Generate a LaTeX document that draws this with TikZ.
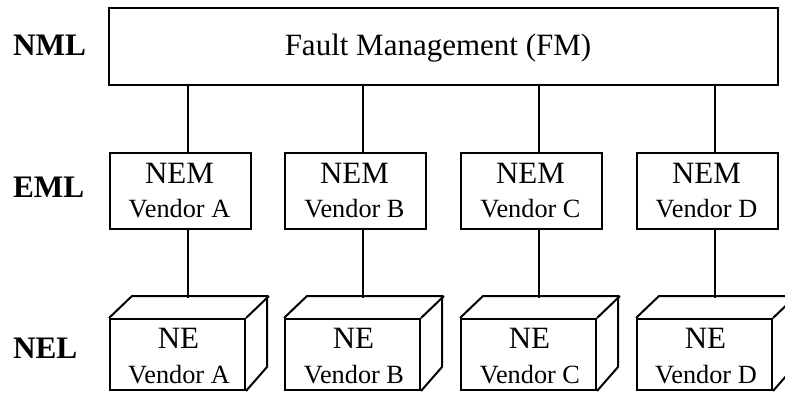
\documentclass[tikz,border=0pt]{standalone}
\usepackage{fontspec}
\setmainfont{Liberation Serif}
\begin{document}
\begin{tikzpicture}[x=1pt,y=-1pt,line width=2pt,
  fmbox/.style={draw, minimum width=669pt, minimum height=77pt, inner sep=0pt},
  nembox/.style={draw, minimum width=141pt, minimum height=76pt, inner sep=0pt},
  nebox/.style={draw, minimum width=135pt, minimum height=71pt, inner sep=0pt},
  bigtxt/.style={inner sep=0pt, anchor=base, font=\fontsize{31}{36}\selectfont},
  smalltxt/.style={inner sep=0pt, anchor=base, font=\fontsize{26.3}{30}\selectfont},
  layertxt/.style={inner sep=0pt, anchor=base west, font=\fontsize{31.3}{36}\selectfont\bfseries}]
\useasboundingbox (0,0) rectangle (785,392);
\clip (0,0) rectangle (785,392);
\node[fmbox] (fm) at (443.5,46.5) {};
\node[bigtxt] (fmt) at (438,55) {Fault Management (FM)};
\node[layertxt] (nml) at (12,55) {NML};
\node[layertxt] (eml) at (12,197) {EML};
\node[layertxt] (nel) at (12,358) {NEL};
\foreach \L/\v in {110/A,285/B,461/C,637/D}{
  \node[nembox] (nem\v) at ({\L+70.5},191) {};
  \node[bigtxt] (nemt\v) at ({\L+69.5},183) {NEM};
  \node[smalltxt] (nemv\v) at ({\L+69.5},217) {Vendor \v};
  \node[nebox] (ne\v) at ({\L+67.5},354.5) {};
  \draw (ne\v.north west) -- ++(23,-22) -- ++(135,0) -- ++(0,71) -- (ne\v.south east);
  \draw (ne\v.north east) -- ++(23,-22);
  \node[bigtxt] (net\v) at ({\L+68.5},348) {NE};
  \node[smalltxt] (nev\v) at ({\L+69},383) {Vendor \v};
  \coordinate (c\v) at ({\L+78},297.5);
  \draw (fm.south -| c\v) -- (nem\v.north -| c\v);
  \draw (nem\v.south -| c\v) -- (c\v);
}
\end{tikzpicture}
\end{document}
